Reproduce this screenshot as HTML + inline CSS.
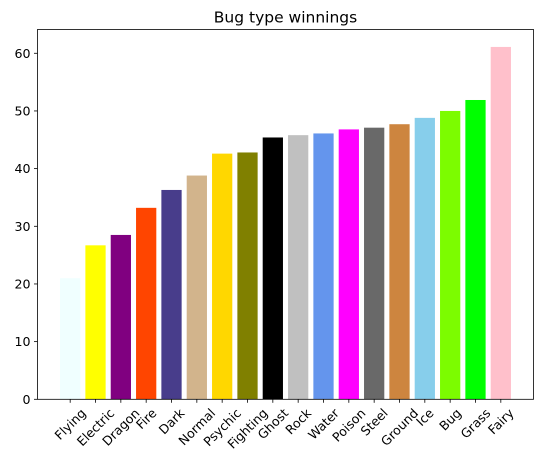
<!DOCTYPE html>
<html><head><meta charset="utf-8"><style>
body{margin:0;background:#fff;}
svg{display:block;font-family:"DejaVu Sans","Liberation Sans",sans-serif;}
</style></head><body>
<svg id="chart" width="543" height="471"></svg>
<script>
const categories=["Flying","Electric","Dragon","Fire","Dark","Normal","Psychic","Fighting","Ghost","Rock","Water","Poison","Steel","Ground","Ice","Bug","Grass","Fairy"];
const values=[21.0,26.7,28.5,33.2,36.3,38.8,42.6,42.8,45.4,45.8,46.1,46.8,47.1,47.7,48.8,50.0,51.9,61.1];
const colors=["#f0ffff","#ffff00","#800080","#ff4500","#483d8b","#d2b48c","#ffd700","#808000","#000000","#c0c0c0","#6495ed","#ff00ff","#696969","#cd853f","#87ceeb","#7cfc00","#00ff00","#ffc0cb"];
const yTicks=[0,10,20,30,40,50,60];
const NS="http://www.w3.org/2000/svg";
const svg=document.getElementById('chart');
const L=37.5,R=533.5,T=29.5,B=399.3;
const xMin=-1.29,xMax=categories.length-1+1.29;
const yMax=(B-T)/5.767;
const xs=i=>L+(i-xMin)/(xMax-xMin)*(R-L);
const ys=v=>B-v/yMax*(B-T);
const bw=0.8*(R-L)/(xMax-xMin);
const FS=12.6;
function mk(t,a){const e=document.createElementNS(NS,t);for(const k in a)e.setAttribute(k,a[k]);svg.appendChild(e);return e;}
categories.forEach((c,i)=>{
  const r=mk('rect',{x:xs(i)-bw/2,y:ys(values[i]),width:bw,height:B-ys(values[i]),fill:colors[i]});
  
  
  const tk=mk('line',{x1:xs(i),x2:xs(i),y1:B,y2:B+3.5,stroke:'#000','stroke-width':0.8});
  
  
  const t=mk('text',{x:0,y:0,'font-size':FS,'text-anchor':'middle','dominant-baseline':'central'});
  t.textContent=c;
  
  
  const len=t.getComputedTextLength();
  const halfH=(len+FS*1.0)*0.7071/2;
  t.setAttribute('transform',`translate(${xs(i)},${B+7+halfH}) rotate(-45)`);
});
yTicks.forEach(v=>{
  const tk=mk('line',{x1:L-3.5,x2:L,y1:ys(v),y2:ys(v),stroke:'#000','stroke-width':0.8});
  
  
  const t=mk('text',{x:L-7,y:ys(v)+4.5,'font-size':FS,'text-anchor':'end'});
  t.textContent=v;
  
  
});
const fr=mk('rect',{x:L,y:T,width:R-L,height:B-T,fill:'none',stroke:'#000','stroke-width':0.8});


const ti=mk('text',{x:(L+R)/2,y:T-7,'font-size':15.5,'text-anchor':'middle'});
ti.textContent='Bug type winnings';


</script>
</body></html>
